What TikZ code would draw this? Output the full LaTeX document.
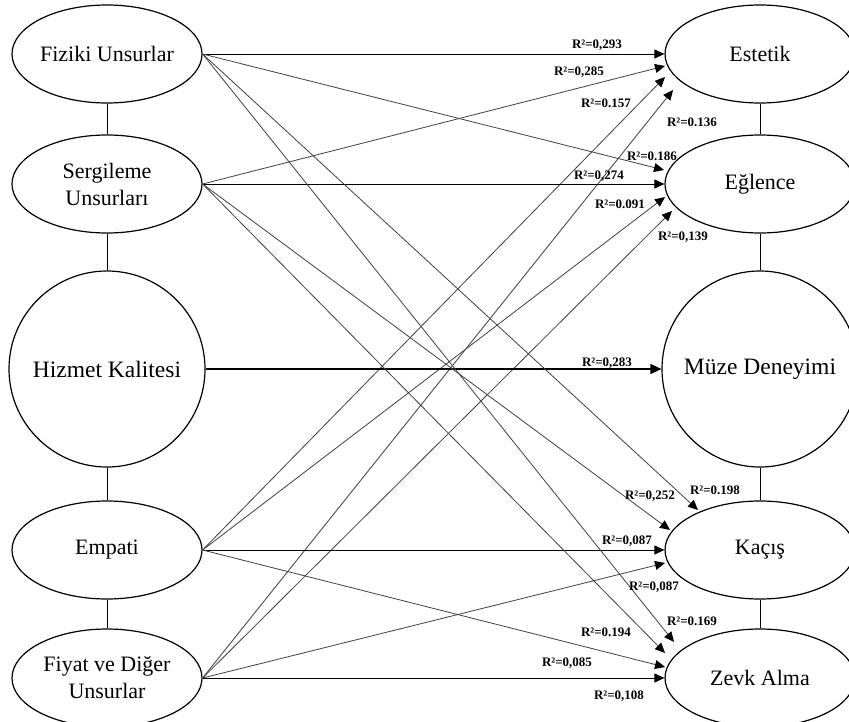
\documentclass[tikz,border=0pt]{standalone}
\usepackage{fontspec}
\setmainfont{Liberation Serif}
\usetikzlibrary{arrows.meta,shapes.geometric}
\begin{document}
\begin{tikzpicture}[x=1pt,y=-1pt,
  ell/.style={draw,line width=1.2pt,ellipse,minimum width=190pt,minimum height=98pt,inner sep=0pt,align=center,font=\fontsize{22}{27}\selectfont},
  big/.style={draw,line width=1.2pt,circle,minimum size=196pt,inner sep=0pt,font=\fontsize{23.5}{27}\selectfont},
  link/.style={line width=0.8pt},
  arr/.style={line width=0.8pt,draw=black!75,-{Triangle[length=10pt,width=9pt,color=black]}},
  harr/.style={line width=0.9pt,draw=black,-{Triangle[length=10pt,width=9pt]}},
  thick arr/.style={line width=1.6pt,draw=black,-{Triangle[length=11pt,width=10pt]}},
  lab/.style={font=\fontsize{13}{15}\selectfont\bfseries,inner sep=0pt}]
\clip (0,0) rectangle (849,722);
\fill[white] (0,0) rectangle (849,722);
% left column
\node[ell] (fiz) at (107,54) {Fiziki Unsurlar};
\node[ell] (ser) at (107,184) {Sergileme\\Unsurları};
\node[big] (hiz) at (107,369) {Hizmet Kalitesi};
\node[ell] (emp) at (107,550) {Empati};
\node[ell] (fiy) at (107,678) {Fiyat ve Diğer\\Unsurlar};
% right column
\node[ell] (est) at (760,54) {Estetik};
\node[ell] (egl) at (760,184) {Eğlence};
\node[big] (muz) at (760,369) {Müze Deneyimi};
\node[ell] (kac) at (760,550) {Kaçış};
\node[ell] (zev) at (760,678) {Zevk Alma};
% vertical links
\draw[link] (fiz.south) -- (ser.north);
\draw[link] (ser.south) -- (hiz.north);
\draw[link] (hiz.south) -- (emp.north);
\draw[link] (emp.south) -- (fiy.north);
\draw[link] (est.south) -- (egl.north);
\draw[link] (egl.south) -- (muz.north);
\draw[link] (muz.south) -- (kac.north);
\draw[link] (kac.south) -- (zev.north);
% arrows to Estetik
\draw[harr] (fiz.east) -- (est.west);
\draw[arr] (ser.east) -- ([shift={(-95,12)}]est.center);
\draw[arr] (emp.east) -- ([shift={(-95,23)}]est.center);
\draw[arr] (fiy.east) -- ([shift={(-87,36)}]est.center);
% arrows to Eglence
\draw[arr] (fiz.east) -- ([shift={(-96,-14)}]egl.center);
\draw[harr] (ser.east) -- (egl.west);
\draw[arr] (emp.east) -- ([shift={(-95,13)}]egl.center);
\draw[arr] (fiy.east) -- ([shift={(-88,27)}]egl.center);
% Hizmet -> Muze
\draw[thick arr] (hiz.east) -- (muz.west);
% arrows to Kacis
\draw[arr] (fiz.east) -- ([shift={(-62,-40)}]kac.center);
\draw[arr] (ser.east) -- ([shift={(-90,-20)}]kac.center);
\draw[harr] (emp.east) -- (kac.west);
\draw[arr] (fiy.east) -- ([shift={(-95,13)}]kac.center);
% arrows to Zevk Alma
\draw[arr] (fiz.east) -- ([shift={(-86,-36)}]zev.center);
\draw[arr] (ser.east) -- ([shift={(-95,-25)}]zev.center);
\draw[arr] (emp.east) -- ([shift={(-95,-11)}]zev.center);
\draw[harr] (fiy.east) -- (zev.west);
% labels
\node[lab] (l1) at (597,45) {R²=0,293};
\node[lab] (l2) at (579,72) {R²=0,285};
\node[lab] (l3) at (606,103) {R²=0.157};
\node[lab] (l4) at (692,122) {R²=0.136};
\node[lab] (l5) at (652,156) {R²=0.186};
\node[lab] (l6) at (599,176) {R²=0,274};
\node[lab] (l7) at (620,204) {R²=0.091};
\node[lab] (l8) at (683,237) {R²=0,139};
\node[lab] (l9) at (607,363) {R²=0,283};
\node[lab] (l10) at (715,490) {R²=0.198};
\node[lab] (l11) at (650,496) {R²=0,252};
\node[lab] (l12) at (627,541) {R²=0,087};
\node[lab] (l13) at (654,587) {R²=0,087};
\node[lab] (l14) at (692,621) {R²=0.169};
\node[lab] (l15) at (606,632) {R²=0.194};
\node[lab] (l16) at (567,663) {R²=0,085};
\node[lab] (l17) at (619,696) {R²=0,108};
\end{tikzpicture}
\end{document}
